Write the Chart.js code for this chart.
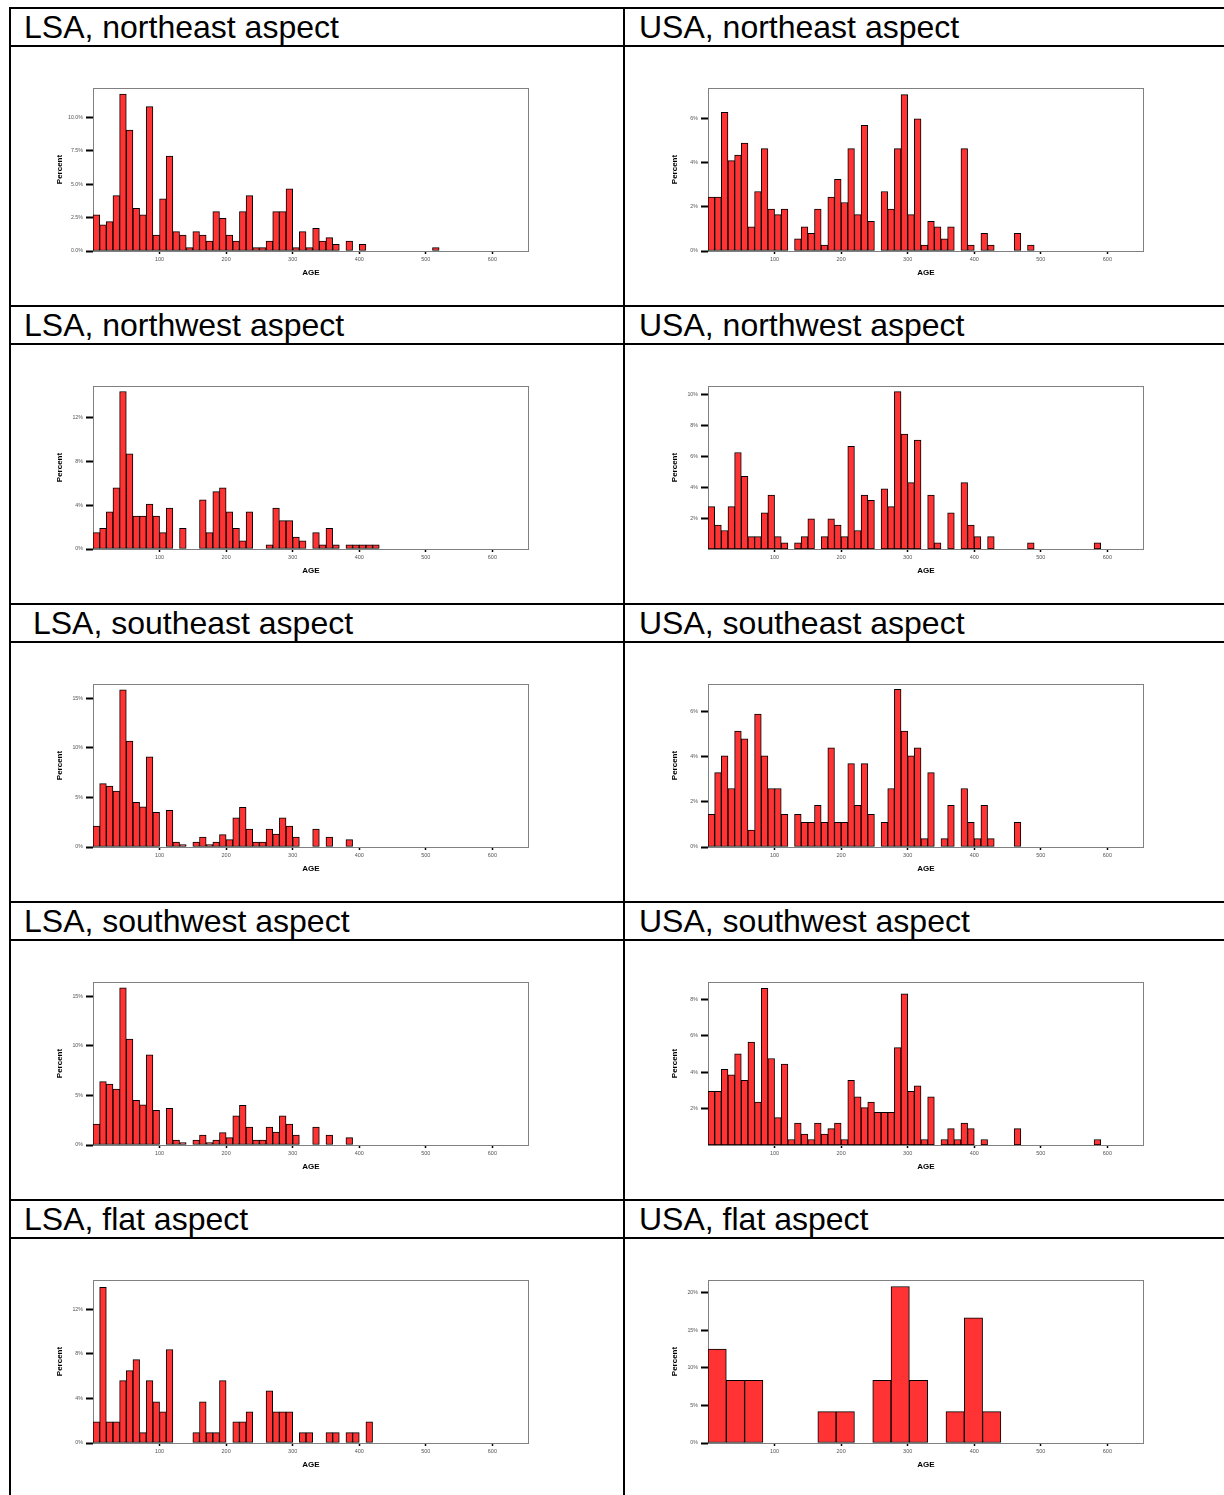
<!DOCTYPE html>
<html><head><meta charset="utf-8">
<script src="https://cdn.jsdelivr.net/npm/chart.js@4/dist/chart.umd.min.js"></script>
<style>
html,body{margin:0;padding:0;background:#fff;}
body{width:1224px;height:1495px;overflow:hidden;position:relative;font-family:'Liberation Sans',Arial,sans-serif;}
.hl{position:absolute;left:9px;width:1215px;height:2px;background:#000;}
.vl{position:absolute;top:7px;width:2px;height:1488px;background:#000;}
.hd{position:absolute;font-size:32px;line-height:38px;height:38px;color:#000;white-space:pre;}
canvas{position:absolute;}
</style></head><body>
<script>
// ---- data (percent per 10-year AGE bin, starting at 0) ----
const lsaNE = [2.7,1.95,2.2,4.15,11.75,9.05,3.2,2.7,10.8,1.2,3.9,7.1,1.45,1.2,0.25,1.45,1.2,0.75,2.95,2.45,1.2,0.75,2.95,4.15,0.25,0.25,0.75,2.95,2.95,4.65,0.25,1.45,0.25,1.7,0.75,1.0,0.5,0,0.75,0,0.5,0,0,0,0,0,0,0,0,0,0,0.25];
const usaNE = [2.45,2.45,6.3,4.1,4.35,4.9,1.1,2.7,4.65,1.9,1.65,1.9,0,0.55,1.1,0.8,1.9,0.27,2.45,3.25,2.2,4.65,1.65,5.7,1.35,0,2.7,1.9,4.65,7.1,1.65,6.0,0.27,1.35,1.1,0.55,1.1,0,4.65,0.27,0,0.8,0.27,0,0,0,0.8,0,0.27];
const lsaNW = [1.5,1.9,3.4,5.6,14.4,8.7,3.0,3.0,4.1,3.0,1.5,3.75,0,1.9,0,0,4.5,1.5,5.25,5.6,3.4,1.9,0.75,3.4,0,0,0.37,3.75,2.6,2.6,1.1,0.75,0,1.5,0.37,1.9,0.37,0,0.37,0.37,0.37,0.37,0.37];
const usaNW = [2.75,1.55,1.2,2.75,6.25,4.7,0.8,0.8,2.35,3.5,0.8,0.4,0,0.4,0.8,1.95,0,0.8,1.95,1.55,0.8,6.65,1.2,3.5,3.15,0,3.9,2.75,10.2,7.45,4.3,7.05,0,3.5,0.4,0,2.35,0,4.3,1.55,0.8,0,0.8,0,0,0,0,0,0.4,0,0,0,0,0,0,0,0,0,0.4];
const lsaSE = [2.1,6.4,6.15,5.65,15.85,10.7,4.5,4.05,9.1,3.5,0,3.7,0.5,0.25,0,0.5,1.0,0.25,0.5,1.25,0.75,2.95,4.0,1.8,0.5,0.5,1.8,1.3,2.95,2.1,1.0,0,0,1.8,0,1.0,0,0,0.75];
const usaSE = [1.45,3.3,4.05,2.6,5.15,4.8,0.75,5.9,4.05,2.6,2.6,1.45,0,1.45,1.1,1.1,1.85,1.1,4.4,1.1,1.1,3.7,1.85,3.7,1.45,0,1.1,2.6,7.0,5.15,4.05,4.4,0.37,3.3,0,0.37,1.85,0,2.6,1.1,0.37,1.85,0.37,0,0,0,1.1];
const lsaSW = [2.1,6.4,6.15,5.65,15.85,10.7,4.5,4.05,9.1,3.5,0,3.7,0.5,0.25,0,0.5,1.0,0.25,0.5,1.25,0.75,2.95,4.0,1.8,0.5,0.5,1.8,1.3,2.95,2.1,1.0,0,0,1.8,0,1.0,0,0,0.75];
const usaSW = [2.95,2.95,4.15,3.85,5.0,3.55,5.65,2.35,8.6,4.75,1.5,4.45,0.3,1.2,0.6,0.3,1.2,0.6,0.9,1.2,0.3,3.55,2.65,2.05,2.35,1.8,1.8,1.8,5.35,8.3,2.95,3.25,0.3,2.65,0,0.3,0.9,0.3,1.2,0.9,0,0.3,0,0,0,0,0.9,0,0,0,0,0,0,0,0,0,0,0,0.3];
const lsaFlat = [1.9,14.0,1.9,1.9,5.6,6.5,7.5,0.93,5.6,3.7,2.8,8.4,0,0,0,0.93,3.7,0.93,0.93,5.6,0,1.9,1.9,2.8,0,0,4.7,2.8,2.8,2.8,0,0.93,0.93,0,0,0.93,0.93,0,0.93,0.93,0,1.9];
// USA flat uses wider bins (27.5 years)
const usaFlat = [12.5,8.33,8.33,0,0,0,4.17,4.17,0,8.33,20.83,8.33,0,4.17,16.67,4.17];

const binWidths = [10,10,10,10,10,10,10,10,10,27.5];
const titles = ['LSA, northeast aspect','USA, northeast aspect','LSA, northwest aspect','USA, northwest aspect',' LSA, southeast aspect','USA, southeast aspect','LSA, southwest aspect','USA, southwest aspect','LSA, flat aspect','USA, flat aspect'];
const seriesList = [lsaNE,usaNE,lsaNW,usaNW,lsaSE,usaSE,lsaSW,usaSW,lsaFlat,usaFlat];

const yTicks = [[0,2.5,5,7.5,10],[0,2,4,6],[0,4,8,12],[2,4,6,8,10],[0,5,10,15],[0,2,4,6],[0,5,10,15],[2,4,6,8],[0,4,8,12],[0,5,10,15,20]];
const yTickLabels = [['0.0%','2.5%','5.0%','7.5%','10.0%'],['0%','2%','4%','6%'],['0%','4%','8%','12%'],['2%','4%','6%','8%','10%'],['0%','5%','10%','15%'],['0%','2%','4%','6%'],['0%','5%','10%','15%'],['2%','4%','6%','8%'],['0%','4%','8%','12%'],['0%','5%','10%','15%','20%']];
const yMax = [12.2,7.4,14.9,10.56,16.45,7.24,16.45,8.95,14.65,21.7];
const xTicks = [100,200,300,400,500,600];
const xTickLabels = ['100','200','300','400','500','600'];
const xMax = 655;

// ---- layout (table) ----
const rowTops = [8,306,604,902,1200];
const HEAD_H = 38;
rowTops.forEach(t=>{
  [t, t+HEAD_H].forEach(y=>{const d=document.createElement('div');d.className='hl';d.style.top=(y-1)+'px';document.body.appendChild(d);});
});
[10,624].forEach(x=>{const d=document.createElement('div');d.className='vl';d.style.left=(x-1)+'px';document.body.appendChild(d);});

const FONT = "'Liberation Sans', Arial, sans-serif";
const framePlugin = {
  id:'frame',
  beforeDatasetsDraw(chart){
    const {ctx, chartArea:a} = chart;
    ctx.save(); ctx.strokeStyle='#808080'; ctx.lineWidth=1;
    ctx.strokeRect(Math.round(a.left)+0.5, Math.round(a.top)+0.5, Math.round(a.right-a.left)-1, Math.round(a.bottom-a.top));
    ctx.restore();
  }
};
function zeroPad(s){ s.paddingTop=0; s.paddingBottom=0; s.paddingLeft=0; s.paddingRight=0; }

const Y_W = 42, X_H = 31, PAD_T = 2, PAD_R = 4, PLOT_W = 436, PLOT_H = 163;
seriesList.forEach((vals, i)=>{
  const col = i % 2, row = Math.floor(i/2);
  const hd = document.createElement('div');
  hd.className='hd';
  hd.textContent = titles[i];
  hd.style.left = (col===0 ? 24 : 639)+'px';
  hd.style.top = rowTops[row]+'px';
  document.body.appendChild(hd);

  const plotLeft = col===0 ? 93 : 708;
  const plotTop = 88 + 298*row;
  const cv = document.createElement('canvas');
  cv.width = Y_W + PLOT_W + PAD_R;
  cv.height = PAD_T + PLOT_H + X_H;
  cv.style.left = (plotLeft - Y_W)+'px';
  cv.style.top = (plotTop - PAD_T)+'px';
  document.body.appendChild(cv);

  const w = binWidths[i];
  const data = vals.map((v,k)=>({x: k*w + w/2, y: v>0 ? v : null}));
  new Chart(cv, {
    type:'bar',
    data:{datasets:[{data, backgroundColor:'#ff3333', borderColor:'#000', borderWidth:1, borderSkipped:false, barPercentage:1, categoryPercentage:1}]},
    options:{
      responsive:false, animation:false, devicePixelRatio:1,
      layout:{padding:{top:PAD_T,right:PAD_R,left:0,bottom:0}},
      plugins:{legend:{display:false}, tooltip:{enabled:false}},
      scales:{
        x:{type:'linear', min:0, max:xMax, offset:false,
           afterFit(s){s.height = X_H; zeroPad(s);},
           afterBuildTicks(s){s.ticks = xTicks.map(v=>({value:v}));},
           ticks:{callback:(v,k)=>xTickLabels[k], font:{family:FONT,size:5.5}, color:'#555', maxRotation:0, autoSkip:false, padding:2},
           grid:{offset:false, drawOnChartArea:false, drawTicks:true, tickLength:3, tickWidth:1.5, tickColor:'#000'},
           border:{display:false},
           title:{display:true, text:'AGE', font:{family:FONT,size:8,weight:'bold'}, color:'#000', padding:{top:4,bottom:4}}
        },
        y:{min:0, max:yMax[i],
           afterFit(s){s.width = Y_W; zeroPad(s);},
           afterBuildTicks(s){s.ticks = yTicks[i].map(v=>({value:v}));},
           ticks:{callback:(v,k)=>yTickLabels[i][k], font:{family:FONT,size:5.3}, color:'#555', padding:3, autoSkip:false},
           grid:{drawOnChartArea:false, drawTicks:true, tickLength:7, tickWidth:2, tickColor:'#000'},
           border:{display:false},
           title:{display:true, text:'Percent', font:{family:FONT,size:8,weight:'bold'}, color:'#000', padding:{top:4,bottom:4}}
        }
      }
    },
    plugins:[framePlugin]
  });
});
</script>
</body></html>
